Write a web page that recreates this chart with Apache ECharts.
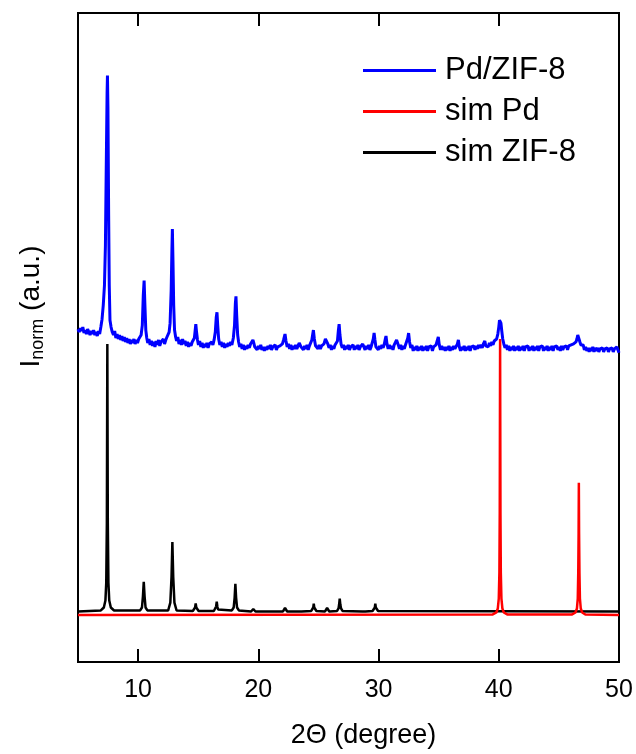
<!DOCTYPE html>
<html>
<head>
<meta charset="utf-8">
<script src="https://cdn.jsdelivr.net/npm/echarts@6/dist/echarts.min.js"></script>
<style>
  html, body { margin: 0; padding: 0; background: #fff; }
  #chart { width: 636px; height: 754px; }
</style>
</head>
<body>
<div id="chart"></div>
<script>
// Diffraction patterns: 2-theta (degree) vs. normalised intensity (arbitrary units, stacked offsets)

const seriesNames = ['Pd/ZIF-8', 'sim Pd', 'sim ZIF-8'];
const xTicks = [10, 20, 30, 40, 50];

// measured Pd/ZIF-8 pattern, [2theta, intensity]
const pdZif8 = [
  [5.0,336],[5.1,333],[5.2,337],[5.3,334],[5.4,338],[5.5,332],[5.6,335],[5.7,331],[5.8,336],[5.9,333],
  [6.0,330],[6.1,334],[6.2,331],[6.3,335],[6.4,330],[6.5,333],[6.6,329],[6.7,334],[6.8,331],
  [6.9,338],[7.0,346],[7.1,360],[7.2,380],[7.28,420],[7.35,500],[7.42,575],[7.45,592],[7.49,560],[7.55,450],
  [7.6,380],[7.66,345],[7.75,338],[7.85,333],
  [7.95,330],[8.05,334],[8.15,327],[8.25,331],[8.35,326],[8.45,330],[8.55,325],[8.65,329],[8.75,324],[8.85,328],
  [8.95,323],[9.05,327],[9.15,322],[9.25,326],[9.35,321],[9.45,325],[9.55,322],[9.65,326],[9.75,321],[9.85,325],
  [9.95,322],[10.05,326],[10.15,324],[10.25,330],
  [10.35,340],[10.43,370],[10.5,385],[10.56,362],[10.64,335],[10.72,327],
  [10.8,322],[10.9,326],[11.0,320],[11.1,324],[11.2,319],[11.3,323],[11.4,318],[11.5,324],[11.6,320],[11.7,325],
  [11.8,319],[11.9,323],[12.0,321],[12.1,326],[12.2,321],[12.3,325],[12.4,328],[12.5,326],[12.58,333],
  [12.66,342],[12.75,375],[12.81,415],[12.85,437],[12.9,405],[12.96,360],[13.03,335],[13.12,328],
  [13.2,324],[13.3,328],[13.4,321],[13.5,325],[13.6,320],[13.7,326],[13.8,321],[13.9,324],[14.0,319],[14.1,323],
  [14.2,318],[14.3,322],[14.4,319],[14.5,323],[14.6,321],[14.68,327],
  [14.74,334],[14.8,341],[14.86,333],[14.94,325],
  [15.02,320],[15.12,324],[15.22,318],[15.32,322],[15.42,317],[15.52,321],[15.62,318],[15.72,322],[15.82,317],
  [15.92,321],[16.02,319],[16.12,323],[16.22,320],[16.32,325],
  [16.42,333],[16.5,348],[16.56,353],[16.62,340],[16.7,326],
  [16.8,320],[16.9,323],[17.0,318],[17.1,322],[17.2,317],[17.3,321],[17.4,318],[17.5,322],[17.6,319],[17.7,323],
  [17.8,320],[17.92,327],
  [18.02,340],[18.09,362],[18.14,369],[18.2,350],[18.28,330],[18.36,323],
  [18.45,318],[18.55,321],[18.65,316],[18.75,320],[18.85,315],[18.95,319],[19.05,316],[19.15,320],[19.25,317],
  [19.35,321],[19.45,319],[19.55,325],[19.62,322],[19.7,318],
  [19.8,320],[19.9,315],[20.0,319],[20.1,316],[20.2,320],[20.3,315],[20.4,318],[20.5,314],[20.6,318],[20.7,315],
  [20.8,319],[20.9,316],[21.0,320],[21.1,315],[21.2,318],[21.3,316],[21.4,320],[21.5,315],[21.6,318],[21.7,316],
  [21.8,319],[21.9,317],[22.0,321],[22.1,325],[22.22,331],[22.3,324],[22.4,318],
  [22.5,321],[22.6,316],[22.7,320],[22.8,315],[22.9,319],[23.0,316],[23.1,320],[23.2,316],[23.3,319],[23.4,322],
  [23.47,323],[23.55,318],[23.65,320],[23.75,315],[23.85,319],[23.95,316],[24.05,320],[24.15,315],[24.25,319],
  [24.35,318],[24.45,325],[24.58,335],[24.66,326],[24.76,319],
  [24.86,321],[24.96,316],[25.06,320],[25.16,316],[25.26,319],[25.36,317],[25.46,321],[25.58,326],[25.69,327],
  [25.78,321],[25.88,317],[25.98,320],[26.08,315],[26.18,319],[26.28,316],[26.38,320],[26.48,318],[26.58,324],
  [26.66,335],[26.72,341],[26.79,330],[26.88,321],
  [26.98,317],[27.08,320],[27.18,315],[27.28,319],[27.38,316],[27.48,320],[27.58,315],[27.68,318],[27.78,316],
  [27.88,320],[27.98,315],[28.08,319],[28.18,316],[28.28,320],[28.38,315],[28.48,318],[28.58,317],[28.68,321],
  [28.78,318],[28.88,315],[28.98,319],[29.08,316],[29.18,320],[29.28,315],[29.38,318],[29.48,320],[29.56,326],
  [29.63,332],[29.7,325],[29.78,318],
  [29.88,320],[29.98,315],[30.08,319],[30.18,316],[30.28,320],[30.38,317],[30.48,321],[30.56,326],[30.62,329],
  [30.7,321],[30.8,316],[30.9,320],[31.0,316],[31.1,319],[31.2,315],[31.3,320],[31.4,318],[31.5,325],[31.56,326],
  [31.64,320],[31.74,316],[31.84,320],[31.94,315],[32.04,319],[32.14,316],[32.24,320],[32.34,319],[32.43,327],
  [32.5,332],[32.58,323],[32.68,317],
  [32.78,320],[32.88,314],[32.98,318],[33.08,315],[33.18,319],[33.28,314],[33.38,318],[33.48,315],[33.58,319],
  [33.68,314],[33.78,318],[33.88,315],[33.98,319],[34.08,314],[34.18,318],[34.28,316],[34.38,319],[34.48,314],
  [34.58,318],[34.68,316],[34.78,320],[34.88,322],[34.97,328],[35.05,320],[35.15,315],
  [35.25,319],[35.35,315],[35.45,318],[35.55,314],[35.65,318],[35.75,315],[35.85,319],[35.95,314],[36.05,318],
  [36.15,315],[36.25,319],[36.35,316],[36.45,318],[36.56,321],[36.64,325],[36.72,318],[36.82,314],
  [36.92,318],[37.02,315],[37.12,319],[37.22,314],[37.32,318],[37.42,315],[37.52,319],[37.62,314],[37.72,318],
  [37.82,316],[37.92,319],[38.02,315],[38.12,319],[38.22,316],[38.32,320],[38.42,317],[38.52,320],[38.62,317],
  [38.72,321],[38.84,324],[38.92,319],[39.02,321],[39.12,318],[39.22,322],[39.32,319],[39.42,323],[39.52,320],
  [39.62,324],[39.72,322],[39.82,326],[39.92,331],[40.0,338],[40.06,345],[40.12,347],[40.18,342],[40.25,334],
  [40.33,326],[40.42,321],[40.52,317],
  [40.62,320],[40.72,315],[40.82,319],[40.92,314],[41.02,318],[41.12,315],[41.22,319],[41.32,314],[41.42,318],
  [41.52,315],[41.62,319],[41.72,314],[41.82,318],[41.92,315],[42.02,319],[42.12,314],[42.22,318],[42.32,316],
  [42.42,319],[42.52,314],[42.62,318],[42.72,315],[42.82,319],[42.92,314],[43.02,318],[43.12,315],[43.22,319],
  [43.32,314],[43.42,318],[43.52,316],[43.62,319],[43.72,314],[43.82,318],[43.92,315],[44.02,319],[44.12,314],
  [44.22,318],[44.32,315],[44.42,319],[44.52,314],[44.62,318],[44.72,316],[44.82,319],[44.92,315],[45.02,318],
  [45.12,314],[45.22,319],[45.32,315],[45.42,318],[45.52,316],[45.62,319],[45.72,315],[45.82,319],[45.92,317],
  [46.02,320],[46.12,318],[46.22,321],[46.32,320],[46.42,323],[46.5,326],[46.57,330],[46.62,331],[46.68,328],
  [46.75,323],[46.83,320],[46.92,318],[47.02,320],[47.12,315],
  [47.22,318],[47.32,314],[47.42,317],[47.52,313],[47.62,317],[47.72,314],[47.82,318],[47.92,313],[48.02,317],
  [48.12,314],[48.22,317],[48.32,313],[48.42,316],[48.52,314],[48.62,317],[48.72,313],[48.82,316],[48.92,314],
  [49.02,317],[49.12,313],[49.22,316],[49.32,314],[49.42,317],[49.52,313],[49.62,316],[49.72,314],[49.82,318],
  [49.92,316],[50.0,312]
];

// simulated Pd reflections (111) and (200)
const simPd = [
  [5.0,47.5],[39.5,48],[39.8,50],[39.92,54],[40.0,64],[40.05,90],[40.08,150],[40.11,326],[40.14,150],[40.17,90],
  [40.22,64],[40.3,54],[40.42,50],[40.7,48],
  [46.1,48],[46.38,50],[46.5,54],[46.57,64],[46.61,90],[46.64,130],[46.66,181],[46.68,130],[46.71,90],[46.75,64],
  [46.82,54],[46.94,50],[47.2,48],[50.0,47.5]
];

// simulated ZIF-8 pattern
const simZif8 = [
  [5.0,51],[6.9,52],[7.15,55],[7.28,62],[7.35,80],[7.4,140],[7.44,321],[7.48,140],[7.53,80],[7.6,62],[7.73,55],[8.0,52],
  [10.17,52],[10.32,55],[10.4,66],[10.47,81],[10.54,66],[10.62,55],[10.77,52],
  [12.5,52],[12.68,60],[12.78,86],[12.85,121],[12.92,86],[13.02,60],[13.2,52],
  [14.55,51.5],[14.68,53],[14.74,55],[14.79,59],[14.84,55],[14.9,53],[15.03,51.5],
  [16.3,51.5],[16.43,53],[16.49,56],[16.54,61],[16.59,56],[16.65,53],[16.78,51.5],
  [17.8,52],[17.95,55],[18.03,65],[18.09,79],[18.15,65],[18.23,55],[18.38,52],
  [19.4,51],[19.5,52],[19.58,53.5],[19.66,52],[19.76,51],
  [22.05,51],[22.15,52.5],[22.22,54.5],[22.29,52.5],[22.4,51],
  [23.35,51],[23.47,52],[23.6,51],
  [24.4,51.5],[24.52,53],[24.57,55],[24.61,59],[24.65,55],[24.71,53],[24.83,51.5],
  [25.55,51],[25.65,52.5],[25.72,54.5],[25.79,52.5],[25.9,51],
  [26.55,51.5],[26.67,54],[26.72,58],[26.77,64],[26.82,58],[26.88,54],[27.0,51.5],
  [28.65,51],[28.77,52.5],[28.9,51],
  [29.5,51.5],[29.63,53],[29.69,55],[29.73,59],[29.77,55],[29.83,53],[29.96,51.5],
  [50.0,51]
];

const FONT = '"Liberation Sans", Arial, Helvetica, sans-serif';

const chart = echarts.init(document.getElementById('chart'), null, { renderer: 'canvas' });

const tickStyle = { show: true, inside: true, length: 13, lineStyle: { color: '#000', width: 2 }, customValues: xTicks };

chart.setOption({
  animation: false,
  backgroundColor: '#fff',
  textStyle: { fontFamily: FONT },
  grid: {
    left: 78, right: 17, top: 13, bottom: 86,
    show: true, borderColor: '#000', borderWidth: 2, backgroundColor: 'transparent'
  },
  legend: {
    orient: 'vertical',
    left: 363, top: 55,
    padding: 0,
    itemWidth: 73, itemHeight: 3, itemGap: 10,
    icon: 'rect',
    data: seriesNames,
    textStyle: { fontFamily: FONT, fontSize: 31, color: '#000', lineHeight: 30, padding: [0, 0, 0, 4] }
  },
  xAxis: [{
    type: 'value', min: 5, max: 50, position: 'bottom',
    axisLine: { show: true, lineStyle: { color: '#000', width: 2 } },
    axisTick: tickStyle,
    axisLabel: { show: true, customValues: xTicks, fontSize: 25, color: '#000', margin: 16, fontFamily: FONT },
    splitLine: { show: false },
    name: '2\u0398 (degree)', nameLocation: 'middle', nameGap: 60,
    nameTextStyle: { fontSize: 27, color: '#000', fontFamily: FONT, padding: [0, 0, 0, 30] }
  }, {
    type: 'value', min: 5, max: 50, position: 'top',
    axisLine: { show: true, lineStyle: { color: '#000', width: 2 } },
    axisTick: tickStyle,
    axisLabel: { show: false },
    splitLine: { show: false }
  }],
  yAxis: {
    type: 'value', min: 0, max: 655,
    axisLine: { show: true, lineStyle: { color: '#000', width: 2 } },
    axisTick: { show: false },
    axisLabel: { show: false },
    splitLine: { show: false },
    name: '{i|I}{sub|norm}{u| (a.u.)}',
    nameLocation: 'middle', nameGap: 30,
    nameTextStyle: {
      color: '#000', fontFamily: FONT, padding: [0, 0, 0, 62],
      rich: {
        i: { fontSize: 28, fontFamily: FONT, color: '#000', lineHeight: 34, verticalAlign: 'middle' },
        sub: { fontSize: 18, fontFamily: FONT, color: '#000', lineHeight: 34, padding: [14, 0, 0, 0], verticalAlign: 'middle' },
        u: { fontSize: 28, fontFamily: FONT, color: '#000', lineHeight: 34, verticalAlign: 'middle' }
      }
    }
  },
  series: [
    {
      name: 'sim ZIF-8', type: 'line', data: simZif8, showSymbol: false, symbol: 'none',
      lineStyle: { color: '#000', width: 2.5 }, itemStyle: { color: '#000' }, z: 2
    },
    {
      name: 'sim Pd', type: 'line', data: simPd, showSymbol: false, symbol: 'none',
      lineStyle: { color: '#ff0000', width: 2.5 }, itemStyle: { color: '#ff0000' }, z: 3
    },
    {
      name: 'Pd/ZIF-8', type: 'line', data: pdZif8, showSymbol: false, symbol: 'none',
      lineStyle: { color: '#0000ff', width: 3 }, itemStyle: { color: '#0000ff' }, z: 4
    }
  ]
});
</script>
</body>
</html>
